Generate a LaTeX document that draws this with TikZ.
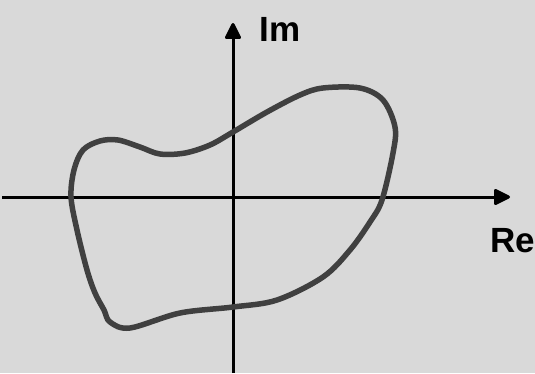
\documentclass[tikz,border=0pt]{standalone}
\usepackage{fontspec}
\setmainfont{Liberation Sans}
\usetikzlibrary{arrows.meta}

\begin{document}
\begin{tikzpicture}[x=1pt,y=-1pt,
    axis/.style={line width=3pt,-{Triangle[length=18pt,width=17pt,round]}},
    contour/.style={line width=5.5pt,black!75,line join=round},
    axlabel/.style={font=\bfseries\fontsize{35}{35}\selectfont,inner sep=0pt}]
  \fill[gray!30] (0,0) rectangle (535,373);
  \useasboundingbox (0,0) rectangle (535,373);
  \coordinate (xs) at (2,197);
  \coordinate (xe) at (510,197);
  \coordinate (ys) at (233,373);
  \coordinate (ye) at (233,23);
  \draw[axis] (xs) -- (xe);
  \draw[axis] (ys) -- (ye);
  \node[axlabel] (im) at (280,29) {Im};
  \node[axlabel] (re) at (513,241) {Re};
  \draw[contour] plot[smooth cycle,tension=0.55] coordinates {
    (71,197) (74,170) (83,150) (100,141) (118,140) (140,147) (160,154)
    (185,153) (210,145) (233,132) (267,112) (300,95) (323,88) (360,88)
    (383,100) (395,127) (393,153) (382,200) (370,222) (350,250) (323,277)
    (277,300) (233,307) (180,313) (130,328) (110,322) (104,310) (95,293)
    (87,270) (77,230)};
\end{tikzpicture}
\end{document}
